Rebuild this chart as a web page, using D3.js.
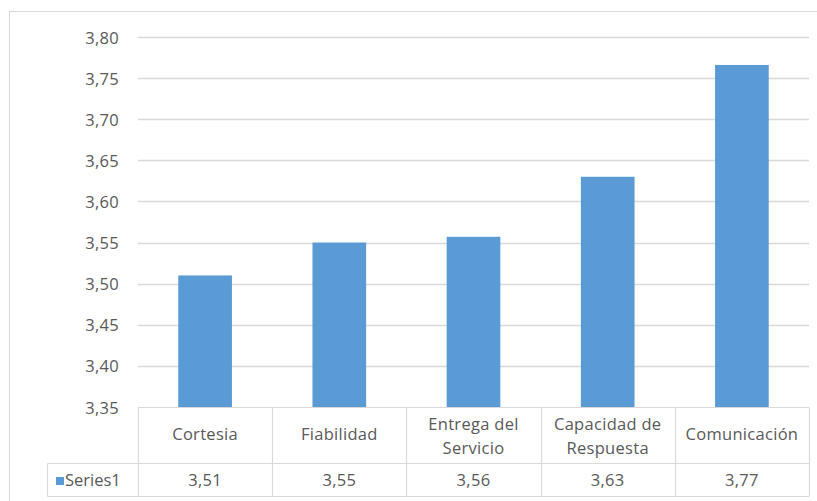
<!DOCTYPE html>
<html><head><meta charset="utf-8">
<script src="https://cdn.jsdelivr.net/npm/d3@7"></script>
<style>body{margin:0;background:#fff}svg{display:block}text{font-family:"Open Sans",sans-serif;fill:#595959;letter-spacing:0.3px}</style>
</head><body><div id="c"></div>
<script>
const categories = [["Cortesia"],["Fiabilidad"],["Entrega del","Servicio"],["Capacidad de","Respuesta"],["Comunicación"]];
const values = [3.51, 3.55, 3.557, 3.63, 3.766];
const seriesName = "Series1";
const yTicks = [3.35,3.40,3.45,3.50,3.55,3.60,3.65,3.70,3.75,3.80];

(function(){
const W=817,H=501,FS="16.5px";
const svg=d3.select("#c").append("svg").attr("width",W).attr("height",H);
svg.append("rect").attr("x",9.5).attr("y",11.5).attr("width",830).attr("height",520).attr("fill","#fff").attr("stroke","#d9d9d9");

const pL=138,pR=809,pT=37,pB=407;
const x=d3.scaleBand().domain(categories.map((d,i)=>i)).range([pL,pR]).paddingInner(0.6).paddingOuter(0.3);
const xc=d3.scaleBand().domain(categories.map((d,i)=>i)).range([pL,pR]);
const y=d3.scaleLinear().domain([3.35,3.80]).range([pB,pT]);
const fmt=v=>d3.format(".2f")(v).replace(".",",");

const yAxis=d3.axisLeft(y).tickValues(yTicks).tickFormat(fmt).tickSize(0).tickPadding(19);
const gy=svg.append("g").attr("transform",`translate(${pL},0)`).call(yAxis);
gy.select(".domain").remove();
gy.selectAll("text").style("font-size",FS).attr("fill","#595959").attr("font-family","Open Sans, sans-serif").attr("dy",null).attr("y",6);

svg.append("g").selectAll("line").data(yTicks.filter(t=>t>3.35)).join("line")
 .attr("x1",pL).attr("x2",pR).attr("y1",d=>Math.round(y(d))+0.5).attr("y2",d=>Math.round(y(d))+0.5)
 .attr("stroke","#d9d9d9").attr("stroke-width",1.3);

svg.append("g").selectAll("rect").data(values).join("rect")
 .attr("x",(d,i)=>x(i)).attr("width",x.bandwidth())
 .attr("y",d=>y(d)).attr("height",d=>y(3.35)-y(d)).attr("fill","#5b9bd5");

const r1=407.5,r2=463.5,r3=496.5,legLeft=47.5;
const tg=svg.append("g").attr("stroke","#d9d9d9").attr("stroke-width",1.2);
tg.append("line").attr("x1",pL).attr("x2",pR).attr("y1",r1).attr("y2",r1);
tg.append("line").attr("x1",legLeft).attr("x2",pR).attr("y1",r2).attr("y2",r2);
tg.append("line").attr("x1",legLeft).attr("x2",pR).attr("y1",r3).attr("y2",r3);
tg.append("line").attr("x1",legLeft).attr("x2",legLeft).attr("y1",r2).attr("y2",r3);
const bounds=[...categories.map((d,i)=>xc(i)),pR];
tg.selectAll("line.v").data(bounds).join("line").attr("class","v")
 .attr("x1",d=>Math.round(d)+0.5).attr("x2",d=>Math.round(d)+0.5).attr("y1",r1).attr("y2",r3);

const cg=svg.append("g");
categories.forEach((lines,i)=>{
  const cx=xc(i)+xc.bandwidth()/2;
  const t=cg.append("text").attr("x",cx).attr("text-anchor","middle").style("font-size",FS);
  const base = lines.length===1 ? [440] : [430,453.5];
  lines.forEach((l,j)=>{
    t.append("tspan").attr("x",cx).attr("y",base[j]).text(l);
  });
  cg.append("text").attr("x",cx).attr("y",486).attr("text-anchor","middle").style("font-size",FS).text(fmt(values[i]));
});
svg.append("rect").attr("x",56).attr("y",477).attr("width",8).attr("height",8).attr("fill","#5b9bd5");
svg.append("text").attr("x",65).attr("y",486).style("font-size",FS).style("letter-spacing","0px").text(seriesName);
})();
</script></body></html>
